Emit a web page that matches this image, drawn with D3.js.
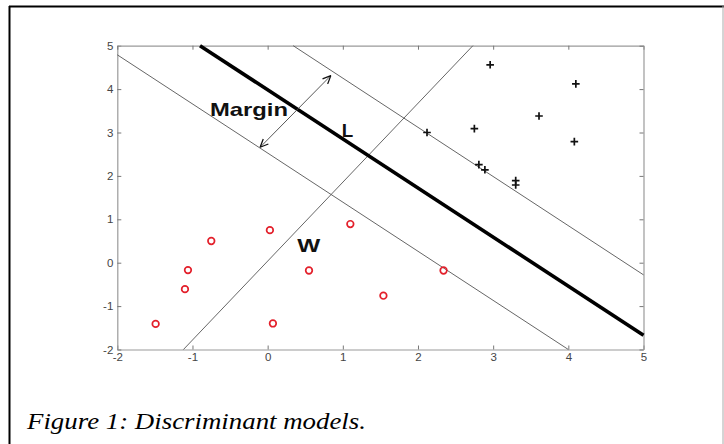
<!DOCTYPE html>
<html>
<head>
<meta charset="utf-8">
<script src="https://cdn.jsdelivr.net/npm/d3@7"></script>
<style>
  html, body { margin: 0; padding: 0; background: #fff; }
  svg { display: block; }
</style>
</head>
<body>
<svg id="chart" width="724" height="444"></svg>
<script>
// ---- data ----
const xTicks = [-2, -1, 0, 1, 2, 3, 4, 5];
const yTicks = [-2, -1, 0, 1, 2, 3, 4, 5];

// class +1 (black plus markers)
const plusX = [2.96, 4.10, 3.61, 2.75, 2.12, 4.08, 2.81, 2.89, 3.30, 3.30];
const plusY = [4.56, 4.12, 3.38, 3.09, 3.00, 2.79, 2.26, 2.14, 1.89, 1.79];

// class -1 (red circles)
const circX = [-1.49, -1.10, -1.06, -0.75, 0.03, 0.07, 0.55, 1.10, 1.54, 2.34];
const circY = [-1.41, -0.61, -0.17, 0.50, 0.75, -1.40, -0.18, 0.89, -0.76, -0.18];

// lines (end points in data units)
const lineL      = [[-0.90, 5.00], [5.00, -1.67]];
const lineUpper  = [[0.34, 5.00], [5.00, -0.28]];
const lineLower  = [[-2.00, 4.79], [4.00, -2.00]];
const lineW      = [[-1.12, -2.00], [2.73, 5.00]];
const marginArrow = [[-0.10, 2.66], [0.84, 4.31]];

const labels = ["Margin", "L", "W"];
const labelX = [-0.767, 0.985, 0.395];
const labelY = [3.38, 2.897, 0.247];

const caption = "Figure 1: Discriminant models.";

// ---- drawing ----
const svg = d3.select("#chart");

// outer frame
svg.append("line").attr("x1", 9).attr("y1", 6.5).attr("x2", 724).attr("y2", 6.5)
  .attr("stroke", "#000").attr("stroke-width", 2);
svg.append("line").attr("x1", 9.5).attr("y1", 6).attr("x2", 9.5).attr("y2", 444)
  .attr("stroke", "#000").attr("stroke-width", 2);
svg.append("line").attr("x1", 723).attr("y1", 6).attr("x2", 723).attr("y2", 444)
  .attr("stroke", "#aaa").attr("stroke-width", 1);

const x = d3.scaleLinear().domain([-2, 5]).range([117.3, 643.5]);
const y = d3.scaleLinear().domain([-2, 5]).range([349.5, 45.7]);

const fmt = d => String(d);  // plain hyphen-minus like the reference
const axisColor = "#9a9a9a";
function styleAxis(g, showText) {
  g.select(".domain").attr("stroke", axisColor).attr("stroke-width", 1.2);
  g.selectAll(".tick line").attr("stroke", "#777").attr("stroke-width", 1);
  g.selectAll(".tick text")
    .attr("fill", "#444")
    .style("font-family", "'Liberation Sans', Arial, sans-serif")
    .style("font-size", "11.5px");
  if (!showText) g.selectAll(".tick text").remove();
}

svg.append("g").attr("transform", `translate(0,${y(-2)})`)
  .call(d3.axisBottom(x).tickValues(xTicks).tickFormat(fmt)
    .tickSizeInner(-4).tickSizeOuter(0).tickPadding(3.5))
  .call(g => styleAxis(g, true));
svg.append("g").attr("transform", `translate(${x(-2)},0)`)
  .call(d3.axisLeft(y).tickValues(yTicks).tickFormat(fmt)
    .tickSizeInner(-4).tickSizeOuter(0).tickPadding(4))
  .call(g => styleAxis(g, true));
svg.append("g").attr("transform", `translate(0,${y(5)})`)
  .call(d3.axisTop(x).tickValues(xTicks).tickSizeInner(-4).tickSizeOuter(0))
  .call(g => styleAxis(g, false));
svg.append("g").attr("transform", `translate(${x(5)},0)`)
  .call(d3.axisRight(y).tickValues(yTicks).tickSizeInner(-4).tickSizeOuter(0))
  .call(g => styleAxis(g, false));

const line = d3.line().x(d => x(d[0])).y(d => y(d[1]));

// thin lines
[lineUpper, lineLower, lineW].forEach(pts => {
  svg.append("path").attr("d", line(pts))
    .attr("fill", "none").attr("stroke", "#555").attr("stroke-width", 0.9);
});
// thick decision line
svg.append("path").attr("d", line(lineL))
  .attr("fill", "none").attr("stroke", "#000").attr("stroke-width", 3.6);

// arrow markers
const defs = svg.append("defs");
defs.append("marker").attr("id", "arr")
  .attr("viewBox", "0 0 10 10").attr("refX", 10).attr("refY", 5)
  .attr("markerWidth", 9).attr("markerHeight", 9)
  .attr("markerUnits", "userSpaceOnUse")
  .attr("orient", "auto-start-reverse")
  .append("path").attr("d", "M1,1 L10,5 L1,9")
  .attr("fill", "none").attr("stroke", "#111").attr("stroke-width", 1.4);

svg.append("path").attr("d", line(marginArrow))
  .attr("fill", "none").attr("stroke", "#444").attr("stroke-width", 0.9)
  .attr("marker-start", "url(#arr)").attr("marker-end", "url(#arr)");

// red circles
svg.append("g").selectAll("circle").data(circX.map((v, i) => [v, circY[i]]))
  .join("circle")
  .attr("cx", d => x(d[0])).attr("cy", d => y(d[1])).attr("r", 3.3)
  .attr("fill", "none").attr("stroke", "#e3202b").attr("stroke-width", 1.7);

// black plus markers
svg.append("g").selectAll("path").data(plusX.map((v, i) => [v, plusY[i]]))
  .join("path")
  .attr("d", d => {
    const cx = x(d[0]), cy = y(d[1]), s = 3.8;
    return `M${cx - s},${cy}H${cx + s}M${cx},${cy - s}V${cy + s}`;
  })
  .attr("stroke", "#111").attr("stroke-width", 1.7).attr("fill", "none");

// annotation labels
const labelWidths = [78, 11.5, 23];
const labelSizes = [18.5, 19, 19];
labels.forEach((t, i) => {
  svg.append("text")
    .attr("x", x(labelX[i])).attr("y", y(labelY[i]))
    .attr("textLength", labelWidths[i]).attr("lengthAdjust", "spacingAndGlyphs")
    .style("font-family", "'Liberation Sans', Arial, sans-serif")
    .style("font-weight", "bold")
    .style("font-size", labelSizes[i] + "px")
    .attr("fill", "#111")
    .text(t);
});

// caption
svg.append("text")
  .attr("x", 27).attr("y", 428.5)
  .attr("textLength", 339).attr("lengthAdjust", "spacingAndGlyphs")
  .style("font-family", "'Liberation Serif', 'Times New Roman', serif")
  .style("font-style", "italic")
  .style("font-size", "24px")
  .attr("fill", "#000")
  .text(caption);
</script>
</body>
</html>
